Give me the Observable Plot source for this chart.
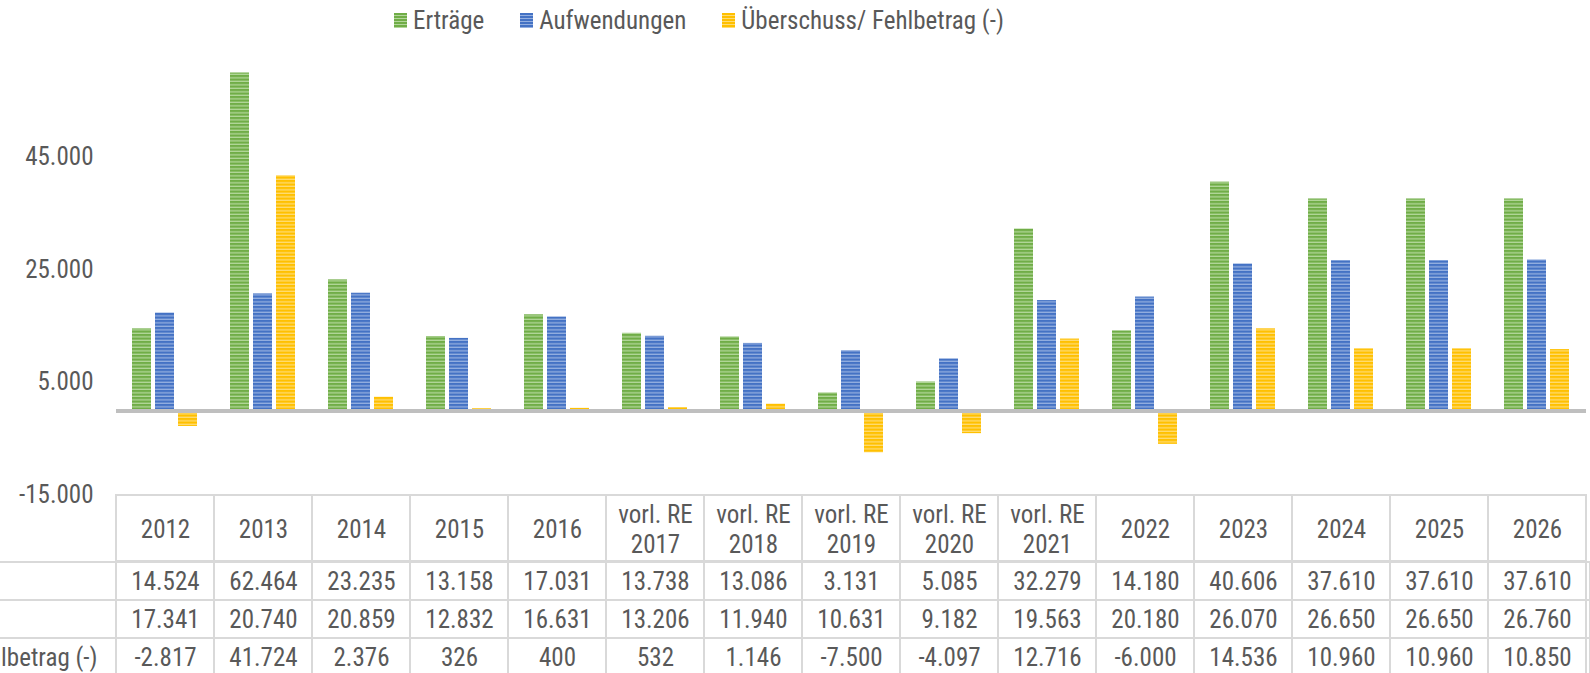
<!DOCTYPE html>
<html>
<head>
<meta charset="utf-8">
<script src="https://cdn.jsdelivr.net/npm/d3@7"></script>
<script src="https://cdn.jsdelivr.net/npm/@observablehq/plot@0.6"></script>
<style>
  html, body { margin: 0; padding: 0; background: #fff; }
  body { width: 1590px; height: 673px; overflow: hidden; position: relative;
         font-family: 'Liberation Sans Narrow', 'Arial Narrow', 'Roboto Condensed', 'DejaVu Sans Condensed', sans-serif;
         color: #595959; }
  .blk { position: absolute; left: 0; }
  #legend { position: absolute; left: 394px; top: 0; height: 41px; display: flex; align-items: center;
            font-size: 25px; white-space: nowrap; }
  .item { display: flex; align-items: center; margin-right: 36px; }
  .key { width: 13px; height: 15px; margin-right: 6px; }
</style>
</head>
<body>
<div id="legend"></div>
<div id="chart" class="blk" style="top:40px"></div>
<div id="thead" class="blk" style="top:495px"></div>
<div id="tbody" class="blk" style="top:561px"></div>
<script>
// ---------------- data ----------------
const categories = ["2012", "2013", "2014", "2015", "2016",
  "vorl. RE\n2017", "vorl. RE\n2018", "vorl. RE\n2019", "vorl. RE\n2020", "vorl. RE\n2021",
  "2022", "2023", "2024", "2025", "2026"];
const seriesNames = ["Erträge", "Aufwendungen", "Überschuss/ Fehlbetrag (-)"];
const ertraege     = [14524, 62464, 23235, 13158, 17031, 13738, 13086, 3131, 5085, 32279, 14180, 40606, 37610, 37610, 37610];
const aufwendungen = [17341, 20740, 20859, 12832, 16631, 13206, 11940, 10631, 9182, 19563, 20180, 26070, 26650, 26650, 26760];
const ueberschuss  = [-2817, 41724, 2376, 326, 400, 532, 1146, -7500, -4097, 12716, -6000, 14536, 10960, 10960, 10850];
const yTicks = [-15000, 5000, 25000, 45000];
const yDomain = [-15000, 60000];
// row header visible in the (cropped) data table
const visibleRowLabels = ["Überschuss/ Fehlbetrag (-)"];

// ---------------- styles ----------------
const FONT = "'Liberation Sans Narrow', 'Arial Narrow', 'Roboto Condensed', 'DejaVu Sans Condensed', sans-serif";
const FS = 25;
const TEXT = "#595959";
const GRID = "#d9d9d9";
const colors = [
  {id: "patG", dark: "#70ad47", light: "#b2d69a"},
  {id: "patB", dark: "#4472c4", light: "#94afe0"},
  {id: "patY", dark: "#ffc000", light: "#ffdc73"}
];
const W = 1590, ML = 111;

const fmt = d3.formatLocale({decimal: ",", thousands: ".", grouping: [3], currency: ["", " €"], minus: "-"}).format(",d");
const seriesValues = [ertraege, aufwendungen, ueberschuss];

// ---------------- legend ----------------
const leg = document.getElementById("legend");
seriesNames.forEach((s, i) => {
  const it = document.createElement("div");
  it.className = "item";
  const k = document.createElement("div");
  k.className = "key";
  k.style.background = `repeating-linear-gradient(to bottom, ${colors[i].dark} 0px, ${colors[i].dark} 2px, ${colors[i].light} 2px, ${colors[i].light} 3px)`;
  const t = document.createElement("span");
  t.textContent = s;
  it.appendChild(k); it.appendChild(t);
  leg.appendChild(it);
});

// ---------------- chart ----------------
const barData = categories.flatMap((c, i) => seriesNames.map((s, j) => ({cat: c, series: s, value: seriesValues[j][i]})));

const chart = Plot.plot({
  width: W, height: 456,
  marginLeft: ML, marginRight: 0, marginTop: 32.5, marginBottom: 1.5,
  style: {fontFamily: FONT, fontSize: FS + "px", color: TEXT, background: "transparent", overflow: "visible"},
  fx: {domain: categories, padding: 0, axis: null},
  x: {domain: seriesNames, paddingInner: 0.17, paddingOuter: 0.68, axis: null},
  y: {domain: yDomain, ticks: yTicks, tickFormat: fmt, tickSize: 0, tickPadding: 23, label: null},
  color: {domain: seriesNames, range: colors.map(c => `url(#${c.id})`)},
  marks: [
    Plot.barY(barData, {fx: "cat", x: "series", y: "value", fill: "series", clip: true}),
    Plot.ruleY([0], {stroke: "#bfbfbf", strokeWidth: 4, dy: 0.5})
  ]
});
const defs = colors.map(c => `<pattern id="${c.id}" patternUnits="userSpaceOnUse" width="8" height="3.5">
  <rect width="8" height="3.5" fill="${c.dark}"/><rect y="2.2" width="8" height="1.3" fill="${c.light}"/></pattern>`).join("");
chart.insertAdjacentHTML("afterbegin", `<defs>${defs}</defs>`);
document.getElementById("chart").appendChild(chart);

// ---------------- table header ----------------
const thead = Plot.plot({
  width: W, height: 66,
  marginLeft: ML, marginRight: 0, marginTop: 0, marginBottom: 0,
  style: {fontFamily: FONT, fontSize: FS + "px", color: TEXT, background: "transparent", overflow: "visible"},
  x: {domain: categories, padding: 0, axis: null},
  marks: [
    Plot.cell(categories, {x: d => d, fill: "none", stroke: GRID, strokeWidth: 2}),
    Plot.text(categories, {x: d => d, text: d => d, fill: TEXT, lineHeight: 1.19, fontSize: FS})
  ]
});
document.getElementById("thead").appendChild(thead);

// ---------------- table body ----------------
const tableRows = categories.flatMap((c, i) => seriesNames.map((s, j) => ({cat: c, row: s, value: seriesValues[j][i]})));

const tbody = Plot.plot({
  width: W, height: 115.5,
  marginLeft: ML, marginRight: 0, marginTop: 0, marginBottom: 0,
  style: {fontFamily: FONT, fontSize: FS + "px", color: TEXT, background: "transparent", overflow: "visible"},
  x: {domain: categories, padding: 0, axis: null},
  y: {domain: seriesNames, padding: 0, axis: null},
  marks: [
    Plot.cell(seriesNames, {y: d => d, fill: "none", stroke: GRID, strokeWidth: 2, insetLeft: -ML - 400}),
    Plot.cell(tableRows, {x: "cat", y: "row", fill: "none", stroke: GRID, strokeWidth: 2}),
    Plot.text(tableRows, {x: "cat", y: "row", text: d => fmt(d.value), fill: TEXT, fontSize: FS}),
    Plot.text(visibleRowLabels, {y: d => d, text: d => d, frameAnchor: "left", textAnchor: "end", dx: -14, fill: TEXT, fontSize: FS})
  ]
});
document.getElementById("tbody").appendChild(tbody);
</script>
</body>
</html>
